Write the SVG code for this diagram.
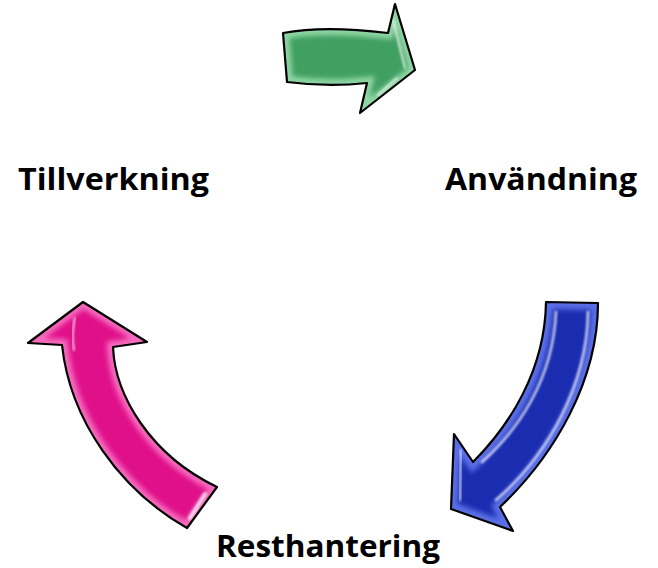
<svg xmlns="http://www.w3.org/2000/svg" width="658" height="568" viewBox="0 0 658 568">
<style>
.lbl{font-family:"Open Sans","Noto Sans","Liberation Sans",sans-serif;font-weight:700;font-size:30px;fill:#000}
.outline{fill:none;stroke:#000;stroke-width:2.2;stroke-linejoin:round}
.streak{fill:none;stroke:#fff;stroke-linecap:round;opacity:.75}
</style>
<defs>
<path id="pG" d="M283,33 C315,27 355,29 388,33 L395,4 L415,70 L360,113 L367,83 C340,86 310,85 287,82 Z"/>
<path id="pB" d="M546,302 L598,303 C598,380 555,455 500,507 L513,531 L451,509 L454,434 L473,462 C510,425 545,370 546,302 Z"/>
<path id="pP" d="M83,302 L147,342 L113,347 C115,395 150,455 217,487 L187,528 C120,490 70,420 62,345 L28,343 Z"/>
<clipPath id="cG"><use href="#pG"/></clipPath>
<clipPath id="cB"><use href="#pB"/></clipPath>
<clipPath id="cP"><use href="#pP"/></clipPath>
<filter id="blur" x="-20%" y="-20%" width="140%" height="140%"><feGaussianBlur stdDeviation="2.5"/></filter>
<filter id="blur1" x="-20%" y="-20%" width="140%" height="140%"><feGaussianBlur stdDeviation="1"/></filter>
</defs>

<g id="arrow-top">
<use href="#pG" fill="#40a062"/>
<g clip-path="url(#cG)">
<use href="#pG" fill="none" stroke="#8fd6a4" stroke-width="12" filter="url(#blur)"/>
<path d="M300,45 C330,40 360,41 378,44" fill="none" stroke="#40a062" stroke-width="6" filter="url(#blur)"/>
<path d="M393,20 L405,68" class="streak" stroke-width="2" filter="url(#blur1)"/>
<path d="M397,78 L378,95" class="streak" stroke-width="2" filter="url(#blur1)"/>
</g>
<use href="#pG" class="outline"/>
</g>

<g id="arrow-right">
<use href="#pB" fill="#1a2db0"/>
<g clip-path="url(#cB)">
<use href="#pB" fill="none" stroke="#5a6ee6" stroke-width="14" filter="url(#blur)"/>
<path d="M588,312 C587,385 548,455 496,500" class="streak" stroke-width="2.5" filter="url(#blur1)"/>
<path d="M556,312 C553,380 518,430 482,462" class="streak" stroke-width="2.5" filter="url(#blur1)"/>
<path d="M461,450 L460,500" class="streak" stroke-width="2" filter="url(#blur1)"/>
</g>
<use href="#pB" class="outline"/>
</g>

<g id="arrow-left">
<use href="#pP" fill="#e0108a"/>
<g clip-path="url(#cP)">
<use href="#pP" fill="none" stroke="#f56bbd" stroke-width="12" filter="url(#blur)"/>
<path d="M75,318 C72,330 72,340 74,350" class="streak" stroke-width="2" filter="url(#blur1)"/>
<path d="M205,494 L190,518" class="streak" stroke-width="4" filter="url(#blur1)"/>
</g>
<use href="#pP" class="outline"/>
</g>

<g id="labels">
<text id="t-tillverkning" class="lbl" x="18" y="190" textLength="191" lengthAdjust="spacingAndGlyphs">Tillverkning</text>
<text id="t-anvandning" class="lbl" x="445" y="190" textLength="192" lengthAdjust="spacingAndGlyphs">Användning</text>
<text id="t-resthantering" class="lbl" x="216" y="557" textLength="224" lengthAdjust="spacingAndGlyphs">Resthantering</text>
</g>
</svg>
